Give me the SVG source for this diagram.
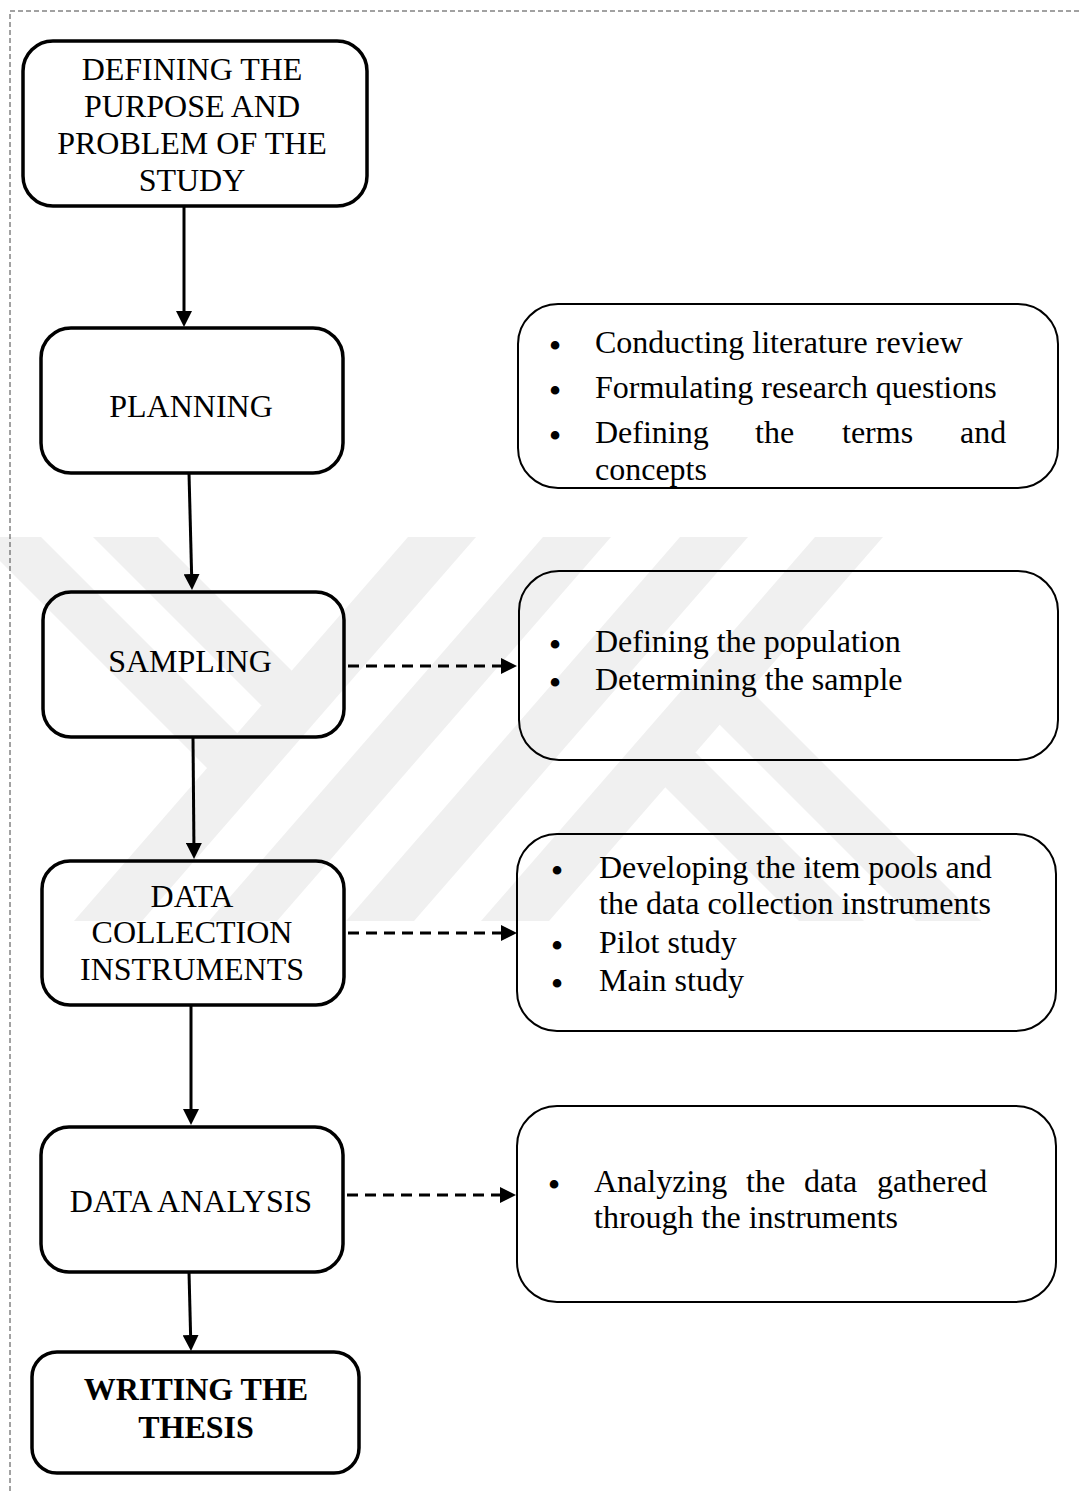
<svg xmlns="http://www.w3.org/2000/svg" width="1079" height="1494" viewBox="0 0 1079 1494">
<style>
.wm{fill:#f0f0f0}
.frame{fill:none;stroke:#444;stroke-width:1;stroke-dasharray:5 3}
.lbox{fill:none;stroke:#000;stroke-width:3.5}
.rbox{fill:none;stroke:#000;stroke-width:2}
.lbl{font-family:"Liberation Serif","Times New Roman",serif;font-size:32px;fill:#000;text-anchor:middle}
.bold{font-weight:bold}
.txt{font-family:"Liberation Serif","Times New Roman",serif;font-size:32px;fill:#000}
.bul{font-family:"Liberation Serif","Times New Roman",serif;font-size:36px;fill:#000;text-anchor:middle}
.con{fill:none;stroke:#000;stroke-width:3}
.dash{stroke-dasharray:11 7}
</style>
<defs>
<marker id="ah" markerUnits="userSpaceOnUse" viewBox="0 0 16 16" markerWidth="16" markerHeight="16" refX="0" refY="8" orient="auto">
<path d="M0,0 L16,8 L0,16 Z" fill="#000"/>
</marker>
</defs>
<rect width="1079" height="1494" fill="#fff"/>
<g id="watermark">
<polygon class="wm" points="408,537 476,537 142,921 74,921"/>
<polygon class="wm" points="543,537 611,537 277,921 209,921"/>
<polygon class="wm" points="680,537 748,537 414,921 346,921"/>
<polygon class="wm" points="815,537 883,537 549,921 481,921"/>
<polygon class="wm" points="93,537 158,537 328,707 261,705"/>
<polygon class="wm" points="-24,537 41,537 274,770 207,768"/>
<polygon class="wm" points="864,921 799,921 629,751 696,753"/>
<polygon class="wm" points="981,921 916,921 683,688 750,690"/>
</g>
<g id="frame">
<polyline class="frame" points="1079,11 10,11 10,1494"/>
</g>
<g id="connectors">
<line class="con" x1="184" y1="206" x2="184" y2="311" marker-end="url(#ah)"/>
<line class="con" x1="189" y1="473" x2="191.6" y2="574" marker-end="url(#ah)"/>
<line class="con" x1="193" y1="737" x2="193.9" y2="843" marker-end="url(#ah)"/>
<line class="con" x1="191" y1="1005" x2="191" y2="1109" marker-end="url(#ah)"/>
<line class="con" x1="189" y1="1272" x2="190.6" y2="1335" marker-end="url(#ah)"/>
<line class="con dash" x1="348" y1="666" x2="501" y2="666" marker-end="url(#ah)"/>
<line class="con dash" x1="348" y1="933" x2="501" y2="933" marker-end="url(#ah)"/>
<line class="con dash" x1="347" y1="1195" x2="500" y2="1195" marker-end="url(#ah)"/>
</g>
<g id="n-define">
<rect class="lbox" x="23" y="41" width="344" height="165" rx="30"/>
<text class="lbl"><tspan x="192" y="80">DEFINING THE</tspan><tspan x="192" y="117">PURPOSE AND</tspan><tspan x="192" y="154">PROBLEM OF THE</tspan><tspan x="192" y="191">STUDY</tspan></text>
</g>
<g id="n-planning">
<rect class="lbox" x="41" y="328" width="302" height="145" rx="30"/>
<text class="lbl" x="191" y="417">PLANNING</text>
</g>
<g id="n-sampling">
<rect class="lbox" x="43" y="592" width="301" height="145" rx="28"/>
<text class="lbl" x="190" y="672">SAMPLING</text>
</g>
<g id="n-datacollection">
<rect class="lbox" x="42" y="861" width="302" height="144" rx="28"/>
<text class="lbl"><tspan x="192" y="907">DATA</tspan><tspan x="192" y="943">COLLECTION</tspan><tspan x="192" y="980">INSTRUMENTS</tspan></text>
</g>
<g id="n-analysis">
<rect class="lbox" x="41" y="1127" width="302" height="145" rx="28"/>
<text class="lbl" x="191" y="1212">DATA ANALYSIS</text>
</g>
<g id="n-thesis">
<rect class="lbox" x="32" y="1352" width="327" height="121" rx="25"/>
<text class="lbl bold"><tspan x="196" y="1400">WRITING THE</tspan><tspan x="196" y="1438">THESIS</tspan></text>
</g>
<g id="n-planning-details">
<rect class="rbox" x="518" y="304" width="540" height="184" rx="40"/>
<text class="bul" x="555" y="358">•</text>
<text class="bul" x="555" y="403">•</text>
<text class="bul" x="555" y="448">•</text>
<text class="txt" x="595" y="353">Conducting literature review</text>
<text class="txt" x="595" y="398">Formulating research questions</text>
<text class="txt" y="443"><tspan x="595">Defining</tspan> <tspan x="755">the</tspan> <tspan x="842">terms</tspan> <tspan x="960">and</tspan></text>
<text class="txt" x="595" y="480">concepts</text>
</g>
<g id="n-sampling-details">
<rect class="rbox" x="519" y="571" width="539" height="189" rx="40"/>
<text class="bul" x="555" y="657">•</text>
<text class="bul" x="555" y="695">•</text>
<text class="txt" x="595" y="652">Defining the population</text>
<text class="txt" x="595" y="690">Determining the sample</text>
</g>
<g id="n-datacollection-details">
<rect class="rbox" x="517" y="834" width="539" height="197" rx="40"/>
<text class="bul" x="557" y="883">•</text>
<text class="bul" x="557" y="958">•</text>
<text class="bul" x="557" y="996">•</text>
<text class="txt" x="599" y="878">Developing the item pools and</text>
<text class="txt" x="599" y="914">the data collection instruments</text>
<text class="txt" x="599" y="953">Pilot study</text>
<text class="txt" x="599" y="991">Main study</text>
</g>
<g id="n-analysis-details">
<rect class="rbox" x="517" y="1106" width="539" height="196" rx="40"/>
<text class="bul" x="554" y="1197">•</text>
<text class="txt" y="1192"><tspan x="594">Analyzing</tspan> <tspan x="746">the</tspan> <tspan x="804">data</tspan> <tspan x="877">gathered</tspan></text>
<text class="txt" x="594" y="1228">through the instruments</text>
</g>
</svg>
